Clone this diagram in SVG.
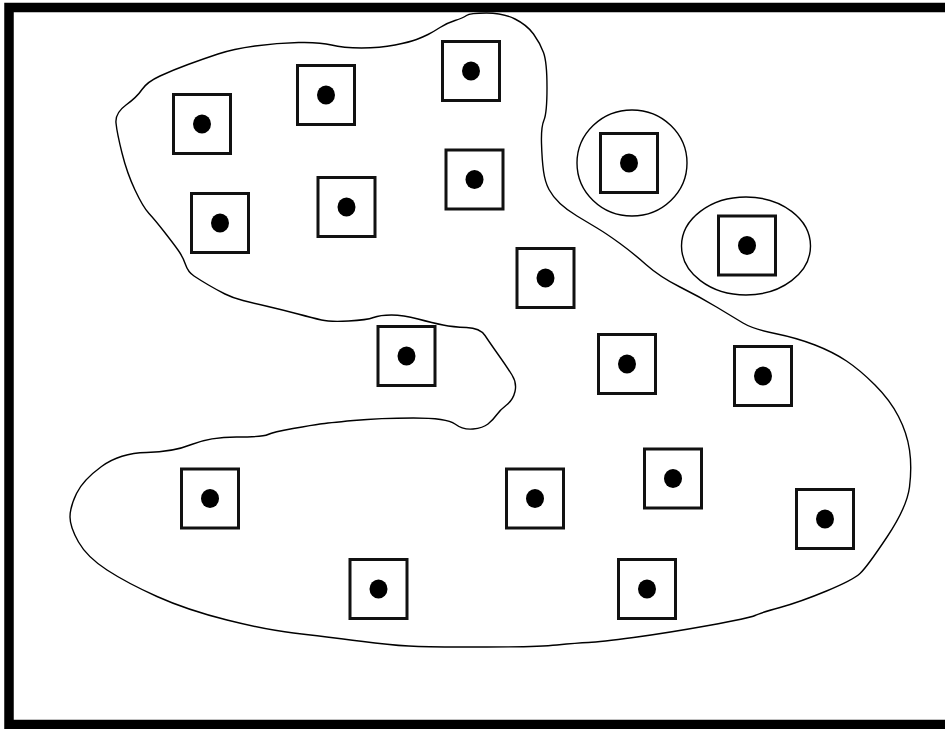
<svg xmlns="http://www.w3.org/2000/svg" xmlns:xlink="http://www.w3.org/1999/xlink" width="945" height="729" viewBox="0 0 945 729">
<style>
.frame{fill:none;stroke:#000;stroke-width:9.5}
.outline{fill:none;stroke:#000;stroke-width:1.4;stroke-linejoin:round}
.box{fill:#fff;stroke:#111;stroke-width:3}
.dot{fill:#000}
</style>
<defs>
<g id="cell">
<rect class="box" x="-28.5" y="-29.5" width="57" height="59"/>
<ellipse class="dot" cx="0" cy="0" rx="9" ry="9.5"/>
</g>
</defs>
<rect width="945" height="729" fill="#fff"/>
<g id="connectors">
<path class="outline" d="M486.5,13 Q503,13 515,19 Q527,25 533.5,34 Q540,43 543.5,52.5 Q547,62 547,87.5 Q547,113 544,120 Q541,127 541.5,143.5 Q542,160 543.5,171 Q545,182 549,189.5 Q553,197 560,203.5 Q567,210 577,216 Q587,222 597,228 Q607,234 620,243.5 Q633,253 646.5,265 Q660,277 680,287 Q700,297 716.5,307 Q733,317 743,323 Q753,329 775,333.5 Q797,338 815,345 Q833,352 846.5,361 Q860,370 875,385 Q890,400 898.5,416.5 Q907,433 909.5,450 Q912,467 909.5,487 Q907,507 887,537 Q867,567 860,573.5 Q853,580 826.5,591 Q800,602 780,607.5 Q760,613 755,615.5 Q750,618 708.5,625.5 Q667,633 633.5,637.5 Q600,642 588.5,642.5 Q577,643 557,645 Q537,647 487,647 Q437,647 418.5,646.5 Q400,646 375,643 Q350,640 335,638 Q320,636 293.5,633 Q267,630 227,620 Q187,610 157,596.5 Q127,583 107,570 Q87,557 78.5,542 Q70,527 70,517 Q70,507 76.5,493.5 Q83,480 101.5,466.5 Q120,453 146.5,452.5 Q173,452 191.5,444.5 Q210,437 236.5,437 Q263,437 268,434.5 Q273,432 293,428.5 Q313,425 320,424 Q327,423 353.5,420.5 Q380,418 413.5,418 Q447,418 455,424 Q463,430 473,429 Q483,428 488,424 Q493,420 496.5,415 Q500,410 506.5,405 Q513,400 515,391.5 Q517,383 512,375 Q507,367 498.5,355 Q490,343 485,335.5 Q480,328 466.5,327.5 Q453,327 443,325 Q433,323 418,319 Q403,315 391.5,315 Q380,315 373.5,317.5 Q367,320 348.5,321 Q330,322 321.5,320 Q313,318 298,314 Q283,310 268,306.5 Q253,303 243,300.5 Q233,298 225,294 Q217,290 208.5,285 Q200,280 194,276 Q188,272 185.5,264.5 Q183,257 178,250 Q173,243 164,231.5 Q155,220 149,213.5 Q143,207 135,190 Q127,173 122,153 Q117,133 116,123 Q115,113 126,105 Q137,97 142,89.5 Q147,82 160,76 Q173,70 188,64.5 Q203,59 218,54 Q233,49 255,46 Q277,43 298.5,42.5 Q320,42 331.5,45 Q343,48 361.5,48 Q380,48 395,45 Q410,42 416.5,39.5 Q423,37 428,34.5 Q433,32 440,27.5 Q447,23 455,20.5 Q463,18 466.5,15.5 Q470,13 486.5,13 Z"/>
<ellipse class="outline" cx="632" cy="163" rx="55" ry="53"/>
<ellipse class="outline" cx="746" cy="246" rx="64.5" ry="49"/>
</g>
<g id="n1"><use xlink:href="#cell" x="202" y="124"/></g>
<g id="n2"><use xlink:href="#cell" x="326" y="95"/></g>
<g id="n3"><use xlink:href="#cell" x="471" y="71"/></g>
<g id="n4"><use xlink:href="#cell" x="220" y="223"/></g>
<g id="n5"><use xlink:href="#cell" x="346.5" y="207"/></g>
<g id="n6"><use xlink:href="#cell" x="474.5" y="179.5"/></g>
<g id="n7"><use xlink:href="#cell" x="629" y="163"/></g>
<g id="n8"><use xlink:href="#cell" x="747" y="245.5"/></g>
<g id="n9"><use xlink:href="#cell" x="545.5" y="278"/></g>
<g id="n10"><use xlink:href="#cell" x="406.5" y="356"/></g>
<g id="n11"><use xlink:href="#cell" x="627" y="364"/></g>
<g id="n12"><use xlink:href="#cell" x="763" y="376"/></g>
<g id="n13"><use xlink:href="#cell" x="210" y="498.5"/></g>
<g id="n14"><use xlink:href="#cell" x="535" y="498.5"/></g>
<g id="n15"><use xlink:href="#cell" x="673" y="478.5"/></g>
<g id="n16"><use xlink:href="#cell" x="825" y="519"/></g>
<g id="n17"><use xlink:href="#cell" x="378.5" y="589"/></g>
<g id="n18"><use xlink:href="#cell" x="647" y="589"/></g>
<rect class="frame" x="9" y="7.5" width="960" height="717"/>
</svg>
